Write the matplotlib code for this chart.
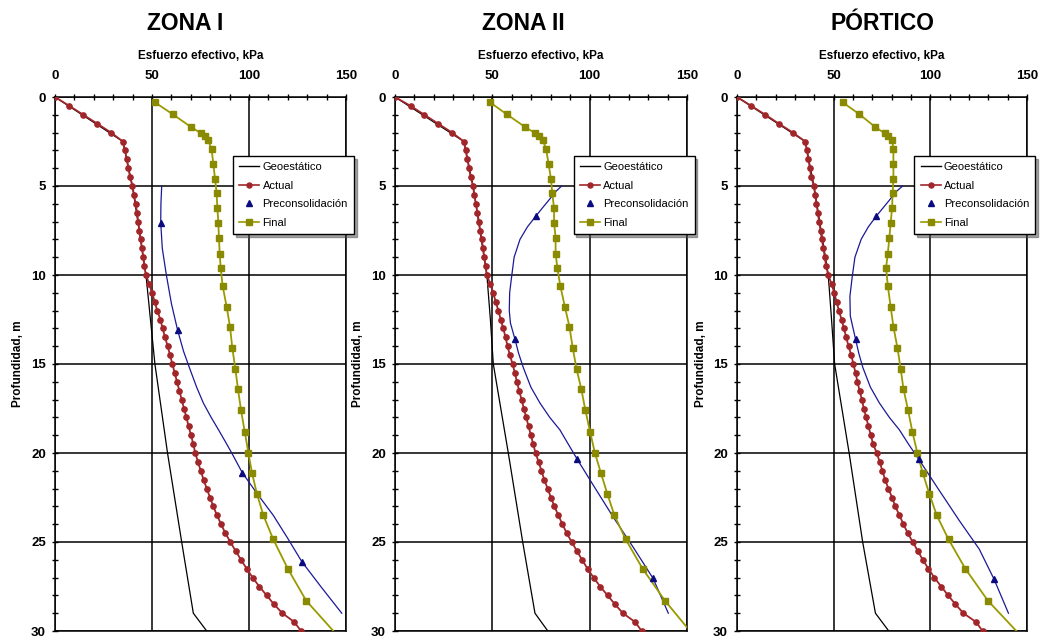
import numpy as np
import matplotlib
matplotlib.use("Agg")
import matplotlib.pyplot as plt
from matplotlib.lines import Line2D
from matplotlib.ticker import MultipleLocator

plt.rcParams['font.family'] = ['Liberation Sans', 'DejaVu Sans']

titles = ['ZONA I', 'ZONA II', 'PÓRTICO']

# depths (m) of the "Actual" profile, one reading every 0.5 m
depth_actual = [0, 0.5, 1, 1.5, 2, 2.5, 3, 3.5, 4, 4.5, 5, 5.5, 6, 6.5, 7, 7.5, 8, 8.5, 9, 9.5,
                10, 10.5, 11, 11.5, 12, 12.5, 13, 13.5, 14, 14.5, 15, 15.5, 16, 16.5, 17, 17.5,
                18, 18.5, 19, 19.5, 20, 20.5, 21, 21.5, 22, 22.5, 23, 23.5, 24, 24.5, 25, 25.5,
                26, 26.5, 27, 27.5, 28, 28.5, 29, 29.5, 30]

actual_z1 = [0, 7.4, 14.6, 21.8, 28.9, 35.0, 36.1, 37.0, 37.8, 38.7, 39.9, 40.7, 41.6, 42.3, 42.9,
             43.5, 44.2, 44.8, 45.5, 46.0, 46.9, 48.5, 50.0, 51.4, 52.7, 54.3, 55.5, 56.7, 58.1,
             59.3, 60.5, 61.7, 62.9, 64.1, 65.3, 66.5, 67.7, 68.9, 70.1, 71.3, 72.3, 73.7, 75.1,
             76.6, 78.2, 79.9, 81.6, 83.5, 85.6, 87.8, 90.4, 93.1, 95.9, 98.8, 101.9, 105.3,
             109.1, 112.9, 117.2, 123.4, 126.8]
actual_z2 = [0, 8.0, 15.1, 22.2, 29.3, 35.4, 36.3, 37.2, 38.0, 38.9, 40.1, 40.7, 41.6, 42.3, 43.1,
             43.8, 44.5, 45.3, 45.8, 46.5, 47.2, 48.9, 50.5, 51.7, 53.1, 54.3, 55.6, 56.8, 57.8,
             59.0, 60.4, 61.6, 62.6, 63.8, 65.0, 66.2, 67.4, 68.6, 69.8, 71.0, 72.2, 73.8, 75.2,
             76.7, 78.4, 80.1, 81.9, 83.9, 86.0, 88.2, 90.8, 93.4, 96.1, 98.9, 102.0, 105.4,
             109.2, 113.0, 117.1, 123.4, 126.7]
actual_po = [0, 7.4, 14.7, 21.7, 28.9, 35.3, 36.2, 36.9, 37.7, 38.4, 39.8, 40.4, 41.1, 41.8, 42.5,
             43.2, 43.9, 44.7, 45.4, 46.1, 47.2, 48.9, 50.3, 51.5, 52.7, 54.1, 55.3, 56.5, 57.7,
             59.1, 60.2, 61.3, 62.3, 63.4, 64.6, 65.6, 66.8, 68.0, 69.2, 70.4, 72.3, 73.8, 75.2,
             76.6, 78.3, 80.2, 81.9, 84.0, 86.1, 88.3, 90.9, 93.5, 96.1, 99.0, 102.1, 105.6,
             109.2, 113.0, 117.1, 123.7, 127.0]

# geostatic profile
depth_geo = [0, 2.5, 5, 10, 12.5, 15, 20, 25, 29, 30]
geo_z1 = [0, 35.0, 39.9, 46.9, 49.2, 51.5, 58.0, 65.3, 71.3, 78.2]
geo_z2 = [0, 35.4, 40.1, 47.2, 49.0, 50.5, 58.2, 65.6, 71.9, 78.5]
geo_po = [0, 35.3, 39.8, 47.2, 48.9, 50.5, 58.0, 65.0, 71.6, 78.5]

# final stress
depth_final = [0.3, 0.97, 1.67, 2.04, 2.2, 2.4, 2.9, 3.76, 4.6, 5.4, 6.25, 7.06, 7.9, 8.8, 9.6,
               10.6, 11.8, 12.9, 14.1, 15.3, 16.4, 17.6, 18.8, 20.0, 21.1, 22.3, 23.5, 24.85,
               26.5, 28.3, 30.0]
final_z1 = [51.5, 60.7, 69.9, 75.3, 77.3, 78.7, 80.7, 81.6, 82.5, 83.3, 83.7, 84.2, 84.5, 84.9,
            85.4, 86.4, 88.5, 90.2, 91.4, 93.0, 94.3, 95.9, 97.8, 99.7, 101.5, 104.1, 107.4,
            112.5, 120.0, 129.5, 143.5]
final_z2 = [48.8, 57.4, 66.6, 72.1, 74.1, 75.8, 77.6, 78.9, 80.1, 80.8, 81.7, 81.7, 82.5, 82.5,
            83.4, 84.9, 87.3, 89.6, 91.3, 93.3, 95.7, 97.8, 100.2, 102.7, 105.7, 109.1, 112.7,
            118.5, 127.2, 138.7, 151.5]
final_po = [54.7, 63.3, 71.3, 76.4, 78.3, 80.2, 80.9, 80.9, 80.9, 80.5, 80.2, 79.5, 78.8, 78.0,
            77.1, 78.0, 79.5, 80.9, 83.0, 84.7, 86.1, 88.5, 90.7, 93.3, 96.0, 99.5, 103.3,
            109.4, 118.1, 129.8, 144.5]

# preconsolidation curve (smoothed line) and its marked points
pre_curve_d_z1 = [5.0, 6.0, 7.06, 8.5, 10.0, 11.6, 13.1, 14.3, 15.3, 16.3, 17.2, 18.0, 18.7, 19.4,
                  20.0, 21.1, 22.3, 23.5, 24.8, 26.1, 27.5, 29.0]
pre_curve_x_z1 = [55.0, 54.6, 54.5, 55.3, 57.4, 60.0, 63.2, 66.3, 69.6, 73.0, 76.5, 80.5, 84.3,
                  88.0, 91.1, 96.5, 104.3, 112.5, 120.0, 127.2, 137.0, 147.8]
pre_curve_d_z2 = [5.0, 5.35, 5.8, 6.25, 6.7, 7.3, 8.0, 9.0, 10.1, 11.0, 12.0, 12.7, 13.6, 14.4,
                  15.2, 16.3, 17.2, 18.0, 18.7, 19.5, 20.35, 21.8, 23.6, 25.3, 27.05, 29.0]
pre_curve_x_z2 = [85.6, 82.2, 79.0, 75.6, 72.3, 68.0, 64.2, 61.2, 59.9, 58.9, 58.7, 59.3, 61.6,
                  63.5, 65.9, 69.8, 74.5, 79.5, 84.7, 89.0, 93.6, 101.8, 112.1, 122.4, 132.6, 140.4]
pre_curve_d_po = [5.0, 5.35, 5.8, 6.25, 6.7, 7.3, 8.0, 9.0, 10.1, 11.2, 12.3, 13.6, 14.4, 15.2,
                  16.3, 17.2, 18.0, 18.7, 19.5, 20.35, 22.1, 23.8, 25.4, 27.1, 29.0]
pre_curve_x_po = [85.7, 82.0, 78.8, 75.4, 72.0, 67.9, 64.2, 61.0, 59.6, 58.4, 58.6, 61.3, 63.0,
                  65.1, 69.0, 73.7, 78.8, 84.0, 88.7, 94.0, 104.6, 115.0, 125.3, 133.0, 140.4]

pre_pts_d_z1 = [7.06, 13.1, 21.1, 26.1]
pre_pts_x_z1 = [54.5, 63.2, 96.5, 127.2]
pre_pts_d_z2 = [6.7, 13.6, 20.35, 27.05]
pre_pts_x_z2 = [72.3, 61.6, 93.6, 132.6]
pre_pts_d_po = [6.7, 13.6, 20.35, 27.1]
pre_pts_x_po = [72.0, 61.3, 94.0, 133.0]

panels = [
    (actual_z1, geo_z1, final_z1, pre_curve_d_z1, pre_curve_x_z1, pre_pts_d_z1, pre_pts_x_z1),
    (actual_z2, geo_z2, final_z2, pre_curve_d_z2, pre_curve_x_z2, pre_pts_d_z2, pre_pts_x_z2),
    (actual_po, geo_po, final_po, pre_curve_d_po, pre_curve_x_po, pre_pts_d_po, pre_pts_x_po),
]

RED = '#a0262a'
OLIVE = '#9a9a00'
OLIVE_M = '#8a8a00'
BLUE = '#1a1a96'
NAVY = '#0b0b80'

W, H = 1040, 637
fig = plt.figure(figsize=(W / 100, H / 100), dpi=100)

ax_left = [55, 395, 737]
ax_width = [291, 292, 290]
title_x = [185, 523, 883]
top_px, bot_px = 97, 631

for i, (act, geo, fin, pcd, pcx, ppd, ppx) in enumerate(panels):
    ax = fig.add_axes([ax_left[i] / W, (H - bot_px) / H, ax_width[i] / W, (bot_px - top_px) / H])
    ax.set_xlim(0, 150)
    ax.set_ylim(30, 0)
    ax.xaxis.tick_top()
    ax.xaxis.set_major_locator(MultipleLocator(50))
    ax.xaxis.set_minor_locator(MultipleLocator(10))
    ax.yaxis.set_major_locator(MultipleLocator(5))
    ax.yaxis.set_minor_locator(MultipleLocator(1))
    ax.tick_params(which='both', direction='inout', length=5, width=1, colors='black',
                   top=True, bottom=False, left=True, right=False)
    ax.tick_params(axis='x', which='major', pad=8, labelsize=9.5)
    ax.tick_params(axis='y', which='major', pad=4, labelsize=9.5)
    for lab in ax.get_xticklabels() + ax.get_yticklabels():
        lab.set_fontweight('bold')
    ax.grid(which='major', color='black', lw=1.1)
    for s in ax.spines.values():
        s.set_color('black')
        s.set_linewidth(1.1)

    ax.plot(geo, depth_geo, color='black', lw=0.9, zorder=3)
    ax.plot(act, depth_actual, color=RED, lw=1.3, marker='o', ms=3.8,
            mfc=RED, mec=RED, zorder=4)
    ax.plot(pcx, pcd, color=BLUE, lw=0.9, zorder=5)
    ax.plot(ppx, ppd, ls='none', marker='^', ms=5, color=NAVY, zorder=6)
    ax.plot(fin, depth_final, color=OLIVE, lw=1.3, marker='s', ms=5,
            mfc=OLIVE_M, mec=OLIVE_M, markevery=list(range(len(fin) - 1)), zorder=5)

    ax.set_xlabel('Esfuerzo efectivo, kPa', fontsize=8.5, fontweight='bold', labelpad=8)
    ax.xaxis.set_label_position('top')
    ax.set_ylabel('Profundidad, m', fontsize=8.5, fontweight='bold')
    ax.yaxis.set_label_coords(-0.105, 0.5)

    handles = [
        Line2D([], [], color='black', lw=1),
        Line2D([], [], color=RED, lw=1.2, marker='o', ms=3.6),
        Line2D([], [], ls='none', marker='^', ms=5, color=NAVY),
        Line2D([], [], color=OLIVE, lw=1.2, marker='s', ms=4.5, mfc=OLIVE_M, mec=OLIVE_M),
    ]
    leg = ax.legend(handles, ['Geoestático', 'Actual', 'Preconsolidación', 'Final'],
                    loc='upper left', bbox_to_anchor=(0.612, 0.89), fontsize=8,
                    frameon=True, fancybox=False, shadow=True, framealpha=1,
                    edgecolor='black', handlelength=1.8, handletextpad=0.3,
                    labelspacing=0.78, borderpad=0.55, borderaxespad=0)
    leg.get_frame().set_linewidth(1.0)
    leg.set_zorder(10)

    fig.text(title_x[i] / W, 1 - 23 / H, titles[i], fontsize=16.5, fontweight='bold',
             ha='center', va='center')

fig.savefig('out.png', dpi=100)
